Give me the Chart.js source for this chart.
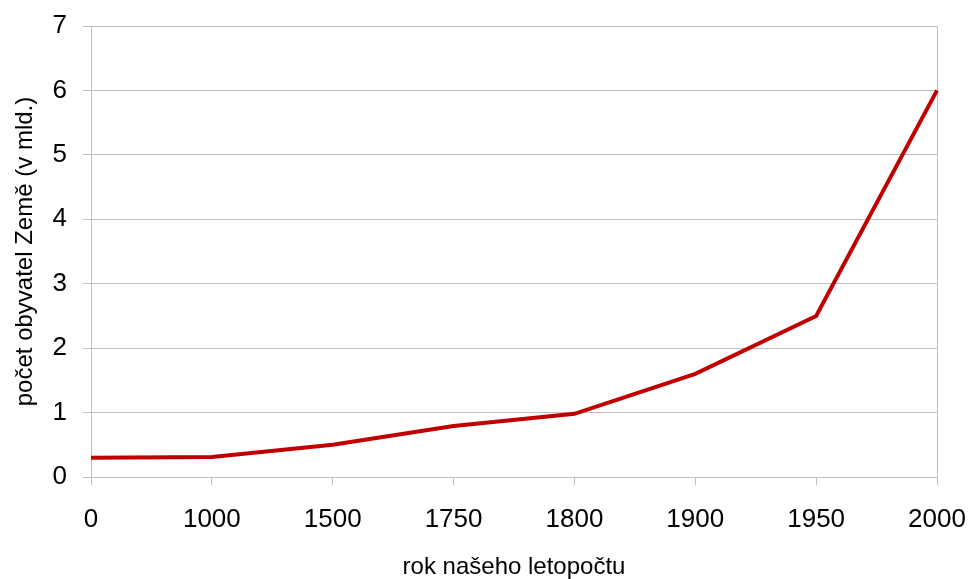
<!DOCTYPE html>
<html>
<head>
<meta charset="utf-8">
<script src="https://cdn.jsdelivr.net/npm/chart.js@4.4.0/dist/chart.umd.min.js"></script>
<style>
  html, body { margin: 0; padding: 0; background: #fff; }
  #wrap { width: 971px; height: 579px; }
</style>
</head>
<body>
<div id="wrap"><canvas id="graf"></canvas></div>
<script>
// roky (kategorie) a počet obyvatel v mld.
const roky = ['0', '1000', '1500', '1750', '1800', '1900', '1950', '2000'];
const obyvatele = [0.3, 0.31, 0.5, 0.79, 0.98, 1.6, 2.5, 6.0];
const yTicks = [0, 1, 2, 3, 4, 5, 6, 7];

const sedaMrizka = '#c0c0c0';
const pismo = "'Liberation Sans', Arial, sans-serif";

const ctx = document.getElementById('graf').getContext('2d');
new Chart(ctx, {
    type: 'line',
    data: {
        labels: roky,
        datasets: [{
            data: obyvatele,
            borderColor: '#c00000',
            borderWidth: 4,
            pointRadius: 0,
            tension: 0,
            fill: false
        }]
    },
    options: {
        responsive: true,
        maintainAspectRatio: false,
        animation: false,
        layout: { padding: { left: 0, right: 34, top: 26, bottom: 0 } },
        plugins: { legend: { display: false }, tooltip: { enabled: false } },
        scales: {
            x: {
                offset: false,
                grid: {
                    color: c => c.index === roky.length - 1 ? sedaMrizka : 'transparent',
                    tickColor: sedaMrizka,
                    tickLength: 8
                },
                border: { color: sedaMrizka },
                ticks: {
                    color: '#000',
                    font: { family: pismo, size: 26 },
                    padding: 19,
                    maxRotation: 0
                },
                title: {
                    display: true,
                    text: 'rok našeho letopočtu',
                    color: '#000',
                    font: { family: pismo, size: 24, lineHeight: 1 },
                    padding: { top: 0, bottom: 0 }
                },
                afterFit: s => {
                    s.height = 579 - 477;
                    s.paddingLeft = 0;
                    s.paddingRight = 0;
                }
            },
            y: {
                min: 0,
                max: 7,
                afterBuildTicks: s => { s.ticks = yTicks.map(v => ({ value: v })); },
                grid: { color: sedaMrizka, tickColor: sedaMrizka, tickLength: 8 },
                border: { color: sedaMrizka },
                ticks: {
                    color: '#000',
                    font: { family: pismo, size: 26 },
                    padding: 16
                },
                title: {
                    display: true,
                    text: 'počet obyvatel Země (v mld.)',
                    color: '#000',
                    font: { family: pismo, size: 24, lineHeight: 1 },
                    padding: { top: 13, bottom: 0 }
                },
                afterFit: s => {
                    s.width = 91;
                    s.paddingTop = 0;
                    s.paddingBottom = 0;
                }
            }
        }
    }
});
</script>
</body>
</html>
